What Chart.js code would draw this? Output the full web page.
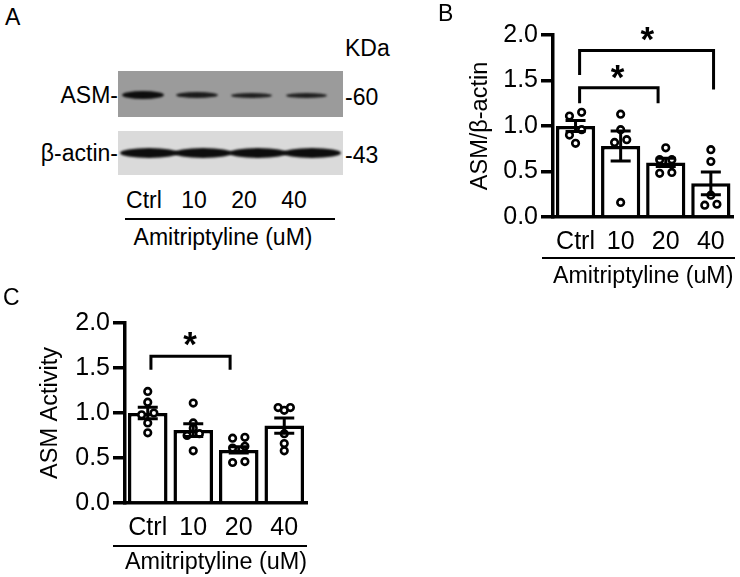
<!DOCTYPE html>
<html>
<head>
<meta charset="utf-8">
<script src="https://cdn.jsdelivr.net/npm/chart.js@4.4.1/dist/chart.umd.min.js"></script>
<style>
  body { margin: 0; width: 740px; height: 577px; background: #fff; position: relative; overflow: hidden;
         font-family: "Liberation Sans", Arial, sans-serif; color: #000; }
  .t { position: absolute; font-size: 23px; line-height: 23px; white-space: nowrap; z-index: 2; }
  .c { transform: translateX(-50%); }
  .r { text-align: right; }
  .rule { position: absolute; height: 1.5px; background: #000; }
  .blot { position: absolute; overflow: hidden; }
  .band { position: absolute; background: #0d0d0d; border-radius: 50%; filter: blur(1.3px); }
  canvas { position: absolute; }
</style>
</head>
<body>

<!-- panel A: western blot -->
<div class="t" style="left:5px;top:6px;">A</div>
<div class="t" style="left:345px;top:37px;">KDa</div>

<div class="blot" style="left:118px;top:71px;width:225px;height:46px;background:#9b9b9b;">
  <div class="band" style="left:4px;top:20px;width:42px;height:8px;"></div>
  <div class="band" style="left:58px;top:21px;width:42px;height:6px;background:#1a1a1a;"></div>
  <div class="band" style="left:113px;top:22px;width:41px;height:5px;background:#1f1f1f;"></div>
  <div class="band" style="left:168px;top:22px;width:41px;height:5px;background:#1f1f1f;"></div>
</div>
<div class="blot" style="left:118px;top:131px;width:225px;height:44px;background:#dadada;">
  <div class="band" style="left:2px;top:17px;width:58px;height:10px;filter:blur(1px);"></div>
  <div class="band" style="left:56px;top:17px;width:58px;height:10px;filter:blur(1px);"></div>
  <div class="band" style="left:111px;top:17px;width:58px;height:10px;filter:blur(1px);"></div>
  <div class="band" style="left:165px;top:17px;width:58px;height:10px;filter:blur(1px);"></div>
</div>

<div class="t r" style="right:622px;top:84px;">ASM-</div>
<div class="t r" style="right:622px;top:142px;">β-actin-</div>
<div class="t" style="left:345px;top:86px;">-60</div>
<div class="t" style="left:345px;top:144px;">-43</div>

<div class="t c" style="left:144px;top:189px;">Ctrl</div>
<div class="t c" style="left:194px;top:189px;">10</div>
<div class="t c" style="left:244px;top:189px;">20</div>
<div class="t c" style="left:294px;top:189px;">40</div>
<div class="rule" style="left:125px;top:218px;width:210px;"></div>
<div class="t c" style="left:223px;top:226px;">Amitriptyline (uM)</div>

<!-- panel B -->
<div class="t" style="left:438px;top:2px;">B</div>
<canvas id="chartB" width="340" height="300" style="left:400px;top:0px;"></canvas>
<div class="rule" style="left:542px;top:257px;width:193px;"></div>

<!-- panel C -->
<div class="t" style="left:3px;top:286px;">C</div>
<canvas id="chartC" width="330" height="287" style="left:0px;top:290px;"></canvas>
<div class="rule" style="left:113px;top:545px;width:194px;"></div>

<script>
// ===== data =====
const groups = ['Ctrl', '10', '20', '40'];
const yTicks = [0, 0.5, 1.0, 1.5, 2.0];

// B: ASM / beta-actin
const ratioMean = [1.0, 0.78, 0.6, 0.37];
const ratioSem = [0.06, 0.165, 0.045, 0.125];
const ratioPoints = [
    [1.11, 1.15, 0.90, 0.96, 0.81],
    [1.13, 0.96, 0.82, 0.85, 0.16],
    [0.76, 0.63, 0.63, 0.48, 0.49],
    [0.74, 0.61, 0.24, 0.13, 0.14]
];

// C: ASM activity
const activityMean = [1.0, 0.81, 0.59, 0.86];
const activitySem = [0.065, 0.07, 0.035, 0.085];
const activityPoints = [
    [1.24, 1.12, 0.98, 1.00, 0.89, 0.78],
    [1.11, 0.89, 0.83, 0.75, 0.77, 0.58],
    [0.72, 0.73, 0.61, 0.63, 0.45, 0.46],
    [1.06, 1.03, 1.06, 0.77, 0.66, 0.58]
];

// horizontal spread of the dots (-1 left, 0 centre, 1 right)
const ratioJitter = [[-1, 1, -1, 1, 0], [0, 0, -1, 1, 0], [0, -1, 1, -1, 1], [0, 0, 0, -1, 1]];
const activityJitter = [[0, 0, -1, 1, 0, 0], [0, 0, 0, -1, 1, 0], [-1, 1, -1, 1, -1, 1], [-1, 0, 1, 0, 0, 0]];

Chart.defaults.font.family = '"Liberation Sans", Arial, sans-serif';
Chart.defaults.color = '#000';

// =========================
// error bars + significance brackets
// =========================
const decor = {
    id: 'decor',
    afterDatasetsDraw(chart, args, o) {
        const ctx = chart.ctx;
        const x = chart.scales.x;
        const y = chart.scales.y;
        ctx.save();
        ctx.strokeStyle = '#000';
        ctx.lineWidth = 3;

        o.mean.forEach((m, i) => {
            const cx = x.getPixelForValue(i);
            const top = y.getPixelForValue(m + o.sem[i]);
            const bot = y.getPixelForValue(m - o.sem[i]);
            ctx.beginPath();
            ctx.moveTo(cx, top); ctx.lineTo(cx, bot);
            ctx.moveTo(cx - 10, top); ctx.lineTo(cx + 10, top);
            ctx.moveTo(cx - 10, bot); ctx.lineTo(cx + 10, bot);
            ctx.stroke();
        });

        o.brackets.forEach(b => {
            const yl = y.getPixelForValue(b.y);
            ctx.beginPath();
            ctx.moveTo(x.getPixelForValue(b.x1), y.getPixelForValue(b.drop1));
            ctx.lineTo(x.getPixelForValue(b.x1), yl);
            ctx.lineTo(x.getPixelForValue(b.x2), yl);
            ctx.lineTo(x.getPixelForValue(b.x2), y.getPixelForValue(b.drop2));
            ctx.stroke();

            ctx.font = 'bold 35px "Liberation Sans", Arial, sans-serif';
            ctx.fillStyle = '#000';
            ctx.textAlign = 'center';
            ctx.textBaseline = 'alphabetic';
            ctx.fillText('*', x.getPixelForValue(b.starX), y.getPixelForValue(b.starY) + 19);
        });
        ctx.restore();
    }
};

function makeChart(id, mean, sem, points, jitter, cfg) {
    const bars = mean.map((v, i) => ({ x: i, y: v }));
    const dots = points.flatMap((vals, i) => vals.map((v, j) => ({ x: i + jitter[i][j] * 0.135, y: v })));
    return new Chart(document.getElementById(id), {
        type: 'bar',
        data: {
            datasets: [
                {
                    type: 'scatter',
                    data: dots,
                    order: 0,
                    pointRadius: 3.3,
                    pointBorderWidth: 2.6,
                    pointBackgroundColor: '#fff',
                    pointBorderColor: '#000'
                },
                {
                    type: 'bar',
                    data: bars,
                    order: 1,
                    grouped: false,
                    backgroundColor: '#fff',
                    borderColor: '#000',
                    borderWidth: 3.5,
                    categoryPercentage: 1,
                    barPercentage: 0.87
                }
            ]
        },
        options: {
            responsive: false,
            animation: false,
            devicePixelRatio: 1,
            layout: { padding: cfg.padding },
            plugins: {
                legend: { display: false },
                tooltip: { enabled: false },
                decor: { mean: mean, sem: sem, brackets: cfg.brackets }
            },
            scales: {
                x: {
                    type: 'linear',
                    min: -0.5,
                    max: 3.5,
                    offset: false,
                    grid: { display: false, drawTicks: false, offset: false },
                    border: { display: true, color: '#000', width: 3.5 },
                    ticks: {
                        color: '#000', font: { size: 25 }, padding: 10, maxRotation: 0,
                        callback: v => groups[v]
                    },
                    afterBuildTicks: s => { s.ticks = groups.map((g, i) => ({ value: i })); },
                    title: {
                        display: true, text: 'Amitriptyline (uM)', color: '#000',
                        font: { size: 23.5 }, padding: { top: 0, bottom: cfg.xTitlePad }
                    },
                    afterFit: s => { s.height = cfg.xHeight; s.paddingLeft = 0; s.paddingRight = 0; }
                },
                y: {
                    type: 'linear',
                    min: 0,
                    max: 2,
                    grid: { drawOnChartArea: false, drawTicks: true, tickLength: 12, color: '#000', lineWidth: 3.5 },
                    border: { display: true, color: '#000', width: 3.5 },
                    ticks: { color: '#000', font: { size: 25 }, padding: 3, callback: v => Number(v).toFixed(1) },
                    afterBuildTicks: s => { s.ticks = yTicks.map(v => ({ value: v })); },
                    title: {
                        display: true, text: cfg.yTitle, color: '#000',
                        font: { size: 23.5 }, padding: { top: cfg.yTitlePad, bottom: 0 }
                    },
                    afterFit: s => { s.width = cfg.yWidth; s.paddingTop = 0; s.paddingBottom = 0; }
                }
            }
        },
        plugins: [decor]
    });
}

// =========================
// PANEL B
// =========================
makeChart('chartB', ratioMean, ratioSem, ratioPoints, ratioJitter, {
    padding: { top: 35, right: 5, bottom: 0, left: 0 },
    yWidth: 153,
    yTitle: 'ASM/β-actin',
    yTitlePad: 66,
    xHeight: 83,
    xTitlePad: 9,
    brackets: [
        { x1: 0.09, x2: 3.06, y: 1.83, drop1: 1.56, drop2: 1.40, starX: 1.59, starY: 2.03 },
        { x1: 0.09, x2: 1.83, y: 1.42, drop1: 1.25, drop2: 1.25, starX: 0.93, starY: 1.615 }
    ]
});

// =========================
// PANEL C
// =========================
makeChart('chartC', activityMean, activitySem, activityPoints, activityJitter, {
    padding: { top: 33, right: 23, bottom: 0, left: 0 },
    yWidth: 125,
    yTitle: 'ASM Activity',
    yTitlePad: 36,
    xHeight: 74,
    xTitlePad: 0,
    brackets: [
        { x1: 0.07, x2: 1.81, y: 1.63, drop1: 1.48, drop2: 1.48, starX: 0.93, starY: 1.84 }
    ]
});
</script>
</body>
</html>
